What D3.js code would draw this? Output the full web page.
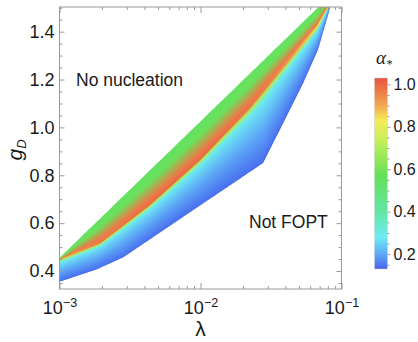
<!DOCTYPE html>
<html><head><meta charset="utf-8">
<script src="https://cdn.jsdelivr.net/npm/d3@7"></script>
<style>body{margin:0;background:#fff}svg{display:block}</style>
</head><body>
<svg id="c" width="418" height="342"></svg>
<script>
// ---------- data ----------
const xTickValues = [1e-3, 1e-2, 1e-1];
const xTickExponents = ["\u22123", "\u22122", "\u22121"];
const yTickValues = [0.4, 0.6, 0.8, 1.0, 1.2, 1.4];
const yTickLabels = ["0.4", "0.6", "0.8", "1.0", "1.2", "1.4"];
const cbTickValues = [0.2, 0.4, 0.6, 0.8, 1.0];
const cbTickLabels = ["0.2", "0.4", "0.6", "0.8", "1.0"];

// upper edge of the FOPT region (no-nucleation boundary)
const upperLambda = [0.001, 0.00316, 0.01, 0.0316, 0.0832];
const upperG      = [0.455, 0.740, 1.025, 1.310, 1.550];
// ridge of maximal alpha
const ridgeLambda = [0.001, 0.00194, 0.00438, 0.0099, 0.0224, 0.043, 0.0676, 0.0832];
const ridgeG      = [0.447, 0.517, 0.678, 0.866, 1.084, 1.285, 1.420, 1.520];
const ridgeAlpha  = [0.88, 0.97, 1.0, 1.0, 0.98, 0.93, 0.84, 0.76];
// lower edge (not-FOPT boundary)
const lowerLambda = [0.001, 0.00184, 0.00283, 0.01, 0.0278, 0.0535, 0.0682, 0.0832];
const lowerG      = [0.355, 0.407, 0.457, 0.675, 0.851, 1.185, 1.325, 1.500];
// alpha profile above the ridge: fraction from upper edge (0) toward ridge (1)
const upperProfileT     = [0, 0.35, 0.82];
const upperProfileAlpha = [0.55, 0.58, 0.97];
// alpha profile below the ridge: fraction from ridge (0) toward lower edge (1)
const lowerProfileT     = [0.05, 0.13, 0.30, 0.60, 1.0];
const lowerProfileAlpha = [0.70, 0.29, 0.245, 0.19, 0.14];
// colour map
const cmapValues = [0.13, 0.19, 0.28, 0.39, 0.57, 0.74, 0.83, 0.91, 1.03];
const cmapColors = ["#4664ec", "#5aa0f5", "#6eebf5", "#64e6aa", "#64e05a", "#c8f05a", "#f5eb5a", "#f0a050", "#e6553f"];
const cbDomain = [0.13, 1.03];

// ---------- layout ----------
const L = 59.5, R = 341.5, T = 7, B = 289;
const svg = d3.select("#c");
const defs = svg.append("defs");
const x = d3.scaleLog().domain([1e-3, 1e-1]).range([L, R]);
const y = d3.scaleLinear().domain([0.325, 1.503]).range([B, T]);
const cmap = d3.scaleLinear().domain(cmapValues).range(cmapColors).interpolate(d3.interpolateRgb).clamp(true);

const fU = d3.scaleLog().domain(upperLambda).range(upperG).clamp(true);
const fR = d3.scaleLog().domain(ridgeLambda).range(ridgeG).clamp(true);
const fA = d3.scaleLog().domain(ridgeLambda).range(ridgeAlpha).clamp(true);
const fL = d3.scaleLog().domain(lowerLambda).range(lowerG).clamp(true);

defs.append("clipPath").attr("id", "plotclip").append("rect")
  .attr("x", L).attr("y", T).attr("width", R - L).attr("height", B - T);

const field = svg.append("g").attr("clip-path", "url(#plotclip)");
const xStart = x(upperLambda[0]), xEnd = x(d3.max([upperLambda[upperLambda.length-1], lowerLambda[lowerLambda.length-1]]));
const edges = [xStart];
for (let px = Math.ceil(xStart); px < xEnd; px++) if (px > xStart) edges.push(px);
edges.push(xEnd);

for (let i = 0; i < edges.length - 1; i++) {
  const xa = edges[i], xb = edges[i + 1], xm = (xa + xb) / 2;
  const la = x.invert(xa), lb = x.invert(xb), lm = x.invert(xm);
  const yT = y(fU(lm)), yR = y(fR(lm)), yBm = y(fL(lm));
  const H = yBm - yT;
  const r = (yR - yT) / H;
  const gid = "col" + i;
  const gr = defs.append("linearGradient").attr("id", gid)
    .attr("gradientUnits", "userSpaceOnUse")
    .attr("x1", 0).attr("x2", 0).attr("y1", yT).attr("y2", yBm);
  upperProfileT.forEach((t, k) => {
    gr.append("stop").attr("offset", t * r).attr("stop-color", cmap(upperProfileAlpha[k]));
  });
  gr.append("stop").attr("offset", r).attr("stop-color", cmap(fA(lm)));
  lowerProfileT.forEach((t, k) => {
    gr.append("stop").attr("offset", r + t * (1 - r)).attr("stop-color", cmap(lowerProfileAlpha[k]));
  });
  const pts = [[xa, y(fU(la))], [xb, y(fU(lb))], [xb, y(fL(lb))], [xa, y(fL(la))]];
  field.append("path").attr("d", "M" + pts.map(p => p.join(",")).join("L") + "Z")
    .attr("fill", "url(#" + gid + ")");
}

// ---------- frame and axes ----------
const axisCol = "#9a9a9a";
const font = "'Liberation Sans', Arial, sans-serif";
svg.append("rect").attr("x", L).attr("y", T).attr("width", R - L).attr("height", B - T)
  .attr("fill", "none").attr("stroke", axisCol).attr("stroke-width", 1);

const xMinor = x.ticks().filter(v => !xTickValues.some(m => Math.abs(m - v) / m < 1e-6));
const yMinor = d3.range(0.35, 1.501, 0.05).filter(v => !yTickValues.some(m => Math.abs(m - v) < 1e-6));

function styleAxis(g) {
  g.select(".domain").remove();
  g.selectAll(".tick line").attr("stroke", axisCol);
  g.selectAll(".tick text").attr("fill", "#1a1a1a").style("font-family", font);
}
// bottom
const gxb = svg.append("g").attr("transform", `translate(0,${B})`)
  .call(d3.axisBottom(x).tickValues(xTickValues).tickSize(-6).tickPadding(8).tickFormat(() => ""));
styleAxis(gxb);
gxb.selectAll(".tick text").each(function(d, i) {
  const t = d3.select(this).attr("font-size", null).style("font-size", "18px").attr("dy", "0.95em");
  t.text("10");
  t.append("tspan").text(xTickExponents[i]).style("font-size", "12.5px").attr("dy", "-0.6em");
});
svg.append("g").attr("transform", `translate(0,${B})`)
  .call(d3.axisBottom(x).tickValues(xMinor).tickSize(-3).tickFormat(() => "")).call(styleAxis);
// top
svg.append("g").attr("transform", `translate(0,${T})`)
  .call(d3.axisTop(x).tickValues(xTickValues).tickSize(-6).tickFormat(() => "")).call(styleAxis);
svg.append("g").attr("transform", `translate(0,${T})`)
  .call(d3.axisTop(x).tickValues(xMinor).tickSize(-3).tickFormat(() => "")).call(styleAxis);
// left
const gyl = svg.append("g").attr("transform", `translate(${L},0)`)
  .call(d3.axisLeft(y).tickValues(yTickValues).tickSize(-5).tickPadding(5).tickFormat((d, i) => yTickLabels[i]));
styleAxis(gyl);
gyl.selectAll(".tick text").style("font-size", "18px");
svg.append("g").attr("transform", `translate(${L},0)`)
  .call(d3.axisLeft(y).tickValues(yMinor).tickSize(-3).tickFormat(() => "")).call(styleAxis);
// right
svg.append("g").attr("transform", `translate(${R},0)`)
  .call(d3.axisRight(y).tickValues(yTickValues).tickSize(-5).tickFormat(() => "")).call(styleAxis);
svg.append("g").attr("transform", `translate(${R},0)`)
  .call(d3.axisRight(y).tickValues(yMinor).tickSize(-3).tickFormat(() => "")).call(styleAxis);

// axis titles
svg.append("text").attr("x", (L + R) / 2).attr("y", 336).attr("text-anchor", "middle")
  .style("font-family", font).style("font-size", "21px").attr("fill", "#1a1a1a").text("\u03bb");
const gt = svg.append("text").attr("transform", "translate(22,150) rotate(-90)").attr("text-anchor", "middle")
  .style("font-family", font).style("font-size", "21px").style("font-style", "italic").attr("fill", "#1a1a1a");
gt.append("tspan").text("g");
gt.append("tspan").text("D").style("font-size", "13px").attr("dy", "4");

// region annotations
svg.append("text").attr("x", 76).attr("y", 86).style("font-family", font).style("font-size", "17.5px")
  .attr("fill", "#1a1a1a").text("No nucleation");
svg.append("text").attr("x", 249).attr("y", 228).style("font-family", font).style("font-size", "17.5px")
  .attr("fill", "#1a1a1a").text("Not FOPT");

// ---------- colour bar ----------
const cbX = 374.5, cbW = 13;
const cb = d3.scaleLinear().domain(cbDomain).range([269, 78]);
const cbg = defs.append("linearGradient").attr("id", "cbgrad").attr("x1", 0).attr("x2", 0).attr("y1", 1).attr("y2", 0);
cmapValues.forEach((v, k) => cbg.append("stop")
  .attr("offset", (v - cbDomain[0]) / (cbDomain[1] - cbDomain[0])).attr("stop-color", cmapColors[k]));
svg.append("rect").attr("x", cbX).attr("y", cb(cbDomain[1])).attr("width", cbW)
  .attr("height", cb(cbDomain[0]) - cb(cbDomain[1])).attr("fill", "url(#cbgrad)")
  .attr("stroke", "#d0d0d0").attr("stroke-width", 0.5);
const gcb = svg.append("g").attr("transform", `translate(${cbX + cbW},0)`)
  .call(d3.axisRight(cb).tickValues(cbTickValues).tickSize(3).tickPadding(3).tickFormat((d, i) => cbTickLabels[i]));
styleAxis(gcb);
gcb.selectAll(".tick text").style("font-size", "16px");
const cbMinor = d3.range(0.15, 1.001, 0.05).filter(v => !cbTickValues.some(m => Math.abs(m - v) < 1e-6));
svg.append("g").attr("transform", `translate(${cbX + cbW},0)`)
  .call(d3.axisRight(cb).tickValues(cbMinor).tickSize(2).tickFormat(() => "")).call(styleAxis);
const at = svg.append("text").attr("x", 376).attr("y", 64)
  .style("font-family", "'Liberation Serif', 'DejaVu Serif', serif").style("font-size", "19px")
  .style("font-style", "italic").attr("fill", "#1a1a1a");
at.append("tspan").text("\u03b1");
at.append("tspan").text("*").style("font-size", "12px").attr("dy", "4");
</script>
</body></html>
